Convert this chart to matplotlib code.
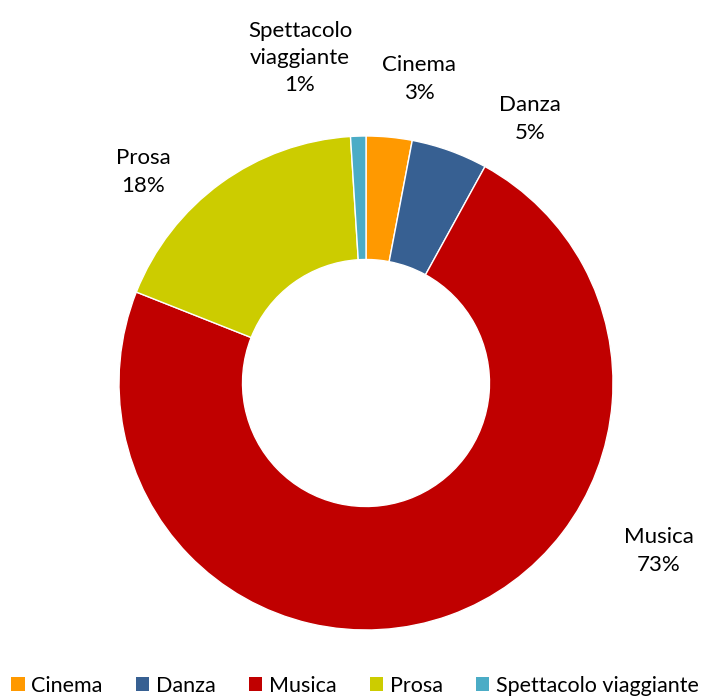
import matplotlib
matplotlib.use("Agg")
import matplotlib.pyplot as plt
from matplotlib.patches import Patch
import numpy as np

categories = ["Cinema", "Danza", "Musica", "Prosa", "Spettacolo viaggiante"]
values = [3, 5, 73, 18, 1]
label_text = ["Cinema\n3%", "Danza\n5%", "Musica\n73%", "Prosa\n18%", "Spettacolo\nviaggiante\n1%"]
colors = ["#FF9900", "#376092", "#C00000", "#CCCC00", "#4BACC6"]

plt.rcParams['font.family'] = ['Lato', 'DejaVu Sans']

W, H = 710, 699
fig = plt.figure(figsize=(W/100, H/100), dpi=100)
# center (366,383) radius 247 px
R = 247
cx, cy = 366, 383
ax = fig.add_axes([(cx - R)/W, (H - cy - R)/H, 2*R/W, 2*R/H])
ax.pie(values, colors=colors, startangle=90, counterclock=False, radius=1,
       wedgeprops=dict(width=0.5, edgecolor='white', linewidth=1.0))
ax.set_xlim(-1, 1)
ax.set_ylim(-1, 1)
ax.set_aspect('equal')
ax.axis('off')

# label centres in pixel coordinates of the figure
label_px = [(419, 79), (530, 119), (659, 551), (143, 172), (300, 58)]
for txt, (px, py) in zip(label_text, label_px):
    fig.text(px/W, 1 - py/H, txt, ha='center', va='center', fontsize=16,
             linespacing=1.45, color='#000000')

handles = [Patch(facecolor=c, edgecolor='none') for c in colors]
fig.legend(handles, categories, loc='center', bbox_to_anchor=(0.5, 1 - 686/H),
           ncol=5, frameon=False, fontsize=15.5, handlelength=0.62, handleheight=0.62,
           handletextpad=0.3, columnspacing=1.55)

fig.savefig("out.png", dpi=100)
